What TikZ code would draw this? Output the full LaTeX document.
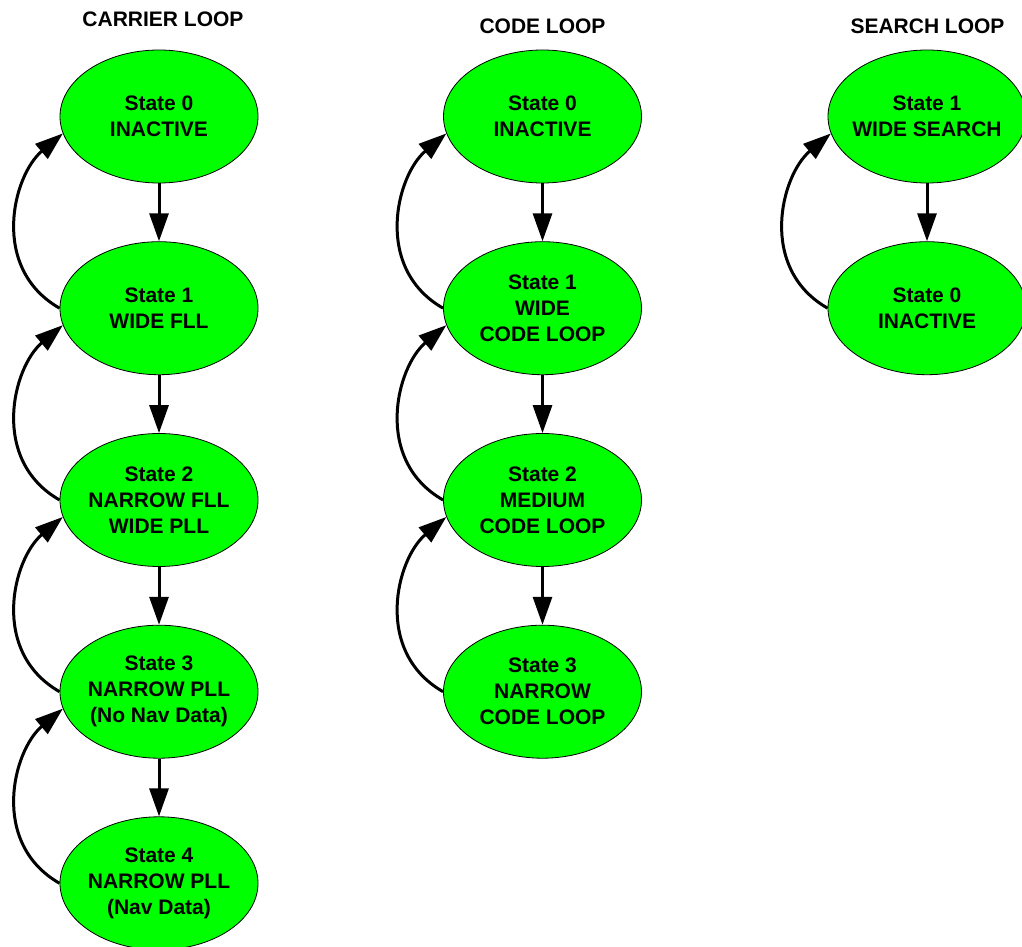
\documentclass[tikz,border=0pt]{standalone}
\usepackage{fontspec}
\setmainfont{Liberation Sans}
\usetikzlibrary{shapes.geometric,arrows.meta}
\definecolor{stategreen}{RGB}{0,255,0}
\begin{document}
\begin{tikzpicture}[x=1pt,y=-1pt,
  stateell/.style={ellipse, draw=black, line width=0.8pt, fill=stategreen,
    minimum width=198pt, minimum height=133pt, inner xsep=-15pt, inner ysep=0pt,
    align=center, font=\fontsize{21}{26}\selectfont\bfseries},
  looptitle/.style={anchor=base, font=\fontsize{21}{26}\selectfont\bfseries},
  fwd/.style={line width=3pt, -{Triangle[length=28pt,width=19pt]}},
  back/.style={line width=3pt, -{Triangle[length=28pt,width=19pt]}}]
\useasboundingbox (0,0) rectangle (1022,947);
% titles
\node[looptitle] (tca) at (163,26.7) {CARRIER LOOP};
\node[looptitle] (tco) at (542.5,33.3) {CODE LOOP};
\node[looptitle] (tse) at (927.5,33.3) {SEARCH LOOP};
% carrier loop
\node[stateell] (ca0) at (159,116.5) {State 0\\INACTIVE};
\node[stateell] (ca1) at (159,308.2) {State 1\\WIDE FLL};
\node[stateell] (ca2) at (159,500) {State 2\\NARROW FLL\\WIDE PLL};
\node[stateell] (ca3) at (159,691.7) {State 3\\NARROW PLL\\(No Nav Data)};
\node[stateell] (ca4) at (159,883.3) {State 4\\NARROW PLL\\(Nav Data)};
% code loop
\node[stateell] (co0) at (542.5,116.5) {State 0\\INACTIVE};
\node[stateell] (co1) at (542.5,308.2) {State 1\\WIDE\\CODE LOOP};
\node[stateell] (co2) at (542.5,500) {State 2\\MEDIUM\\CODE LOOP};
\node[stateell] (co3) at (542.5,691.7) {State 3\\NARROW\\CODE LOOP};
% search loop
\node[stateell] (se1) at (927,116.5) {State 1\\WIDE SEARCH};
\node[stateell] (se0) at (927,308.2) {State 0\\INACTIVE};
% forward arrows
\foreach \a/\b in {ca0/ca1,ca1/ca2,ca2/ca3,ca3/ca4,co0/co1,co1/co2,co2/co3,se1/se0}
  \draw[fwd] (\a.south) -- (\b.north);
% back arrows
\foreach \a/\b in {ca1/ca0,ca2/ca1,ca3/ca2,ca4/ca3,co1/co0,co2/co1,co3/co2,se0/se1}
  \draw[back] (\a.west) .. controls +(-70,-40) and +(-50,42) .. (\b.190);
\end{tikzpicture}
\end{document}
